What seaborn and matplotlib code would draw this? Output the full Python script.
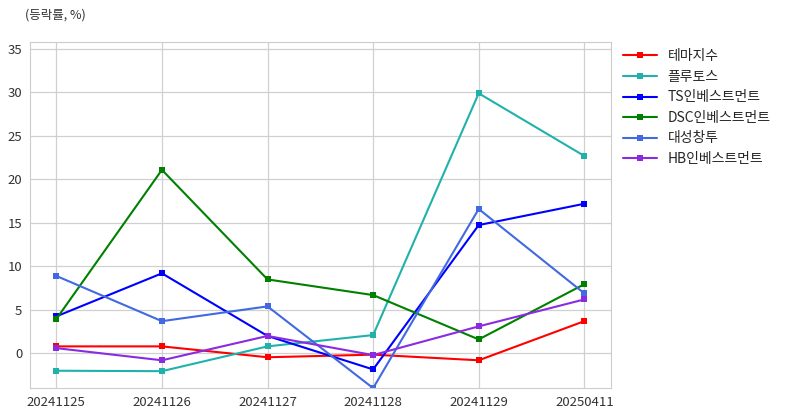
import matplotlib
matplotlib.use("Agg")
import matplotlib.pyplot as plt
import pandas as pd
import seaborn as sns

# Dates and returns (%) for each series
DATES = ["20241125", "20241126", "20241127", "20241128", "20241129", "20250411"]
SERIES = ["테마지수", "플루토스", "TS인베스트먼트", "DSC인베스트먼트", "대성창투", "HB인베스트먼트"]
THEME = [0.8, 0.8, -0.45, -0.15, -0.8, 3.7]
PLUTOS = [-2.0, -2.05, 0.8, 2.1, 29.9, 22.7]
TS_INV = [4.25, 9.2, 2.0, -1.85, 14.75, 17.2]
DSC_INV = [3.95, 21.1, 8.5, 6.7, 1.6, 7.95]
DAESUNG = [8.9, 3.7, 5.4, -4.0, 16.6, 6.9]
HB_INV = [0.6, -0.8, 2.0, -0.2, 3.1, 6.2]
COLORS = ["red", "lightseagreen", "blue", "green", "royalblue", "blueviolet"]

sns.set_style("whitegrid")
plt.rcParams["font.family"] = ["Noto Sans CJK KR", "DejaVu Sans"]
plt.rcParams["axes.unicode_minus"] = False

rows = []
for name, vals in zip(SERIES, [THEME, PLUTOS, TS_INV, DSC_INV, DAESUNG, HB_INV]):
	for d, v in zip(DATES, vals):
		rows.append({"date": d, "series": name, "value": v})
data = pd.DataFrame(rows)

fig = plt.figure(figsize = (7.88, 4.16), dpi = 100)
ax = fig.add_axes([0.038, 0.067, 0.737, 0.832])
sns.lineplot(x = "date", y = "value", hue = "series", data = data, palette = COLORS,
	marker = "s", markersize = 5, markeredgewidth = 0, linewidth = 1.5, ax = ax)

ax.set(xlabel = "", ylabel = "", ylim = (-4.0, 35.8))
ax.tick_params(labelsize = 9.5, colors = "#333333", pad = 2)
for s in ax.spines.values():
	s.set_color("#cccccc")
ax.grid(color = "#d0d0d0", linewidth = 0.9)

ax.legend(loc = "upper left", bbox_to_anchor = (1.0, 1.015), frameon = False, fontsize = 10,
	handlelength = 2.4, labelspacing = 0.47)
fig.text(0.032, 0.963, "(등락률, %)", fontsize = 9, color = "#333333", va = "center")

plt.savefig("out.png", dpi = 100)
